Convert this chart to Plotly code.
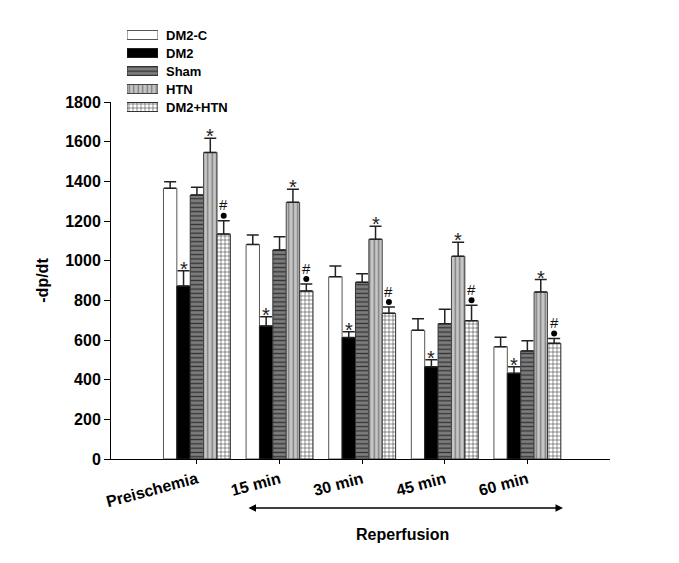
import plotly.graph_objects as go

categories = ["Preischemia", "15 min", "30 min", "45 min", "60 min"]
series_names = ["DM2-C", "DM2", "Sham", "HTN", "DM2+HTN"]

dm2c = [1365, 1082, 919, 649, 566]
dm2 = [872, 671, 612, 465, 432]
sham = [1331, 1054, 891, 682, 545]
htn = [1546, 1294, 1108, 1022, 842]
dm2htn = [1134, 847, 735, 697, 583]

dm2c_err = [33, 47, 54, 58, 48]
dm2_err = [77, 46, 30, 36, 33]
sham_err = [39, 67, 43, 73, 51]
htn_err = [71, 66, 65, 71, 63]
dm2htn_err = [67, 35, 31, 78, 24]

star_series = ["DM2", "HTN"]
hash_dot_series = ["DM2+HTN"]

values = [dm2c, dm2, sham, htn, dm2htn]
errors = [dm2c_err, dm2_err, sham_err, htn_err, dm2htn_err]

styles = [
    dict(color="white", pattern=None, line="#555555"),
    dict(color="black", pattern=None, line="#222222"),
    dict(color="#7c7c7c", pattern=dict(shape="-", bgcolor="#7c7c7c", fgcolor="#333333",
                                         size=4.3, solidity=0.3, fillmode="replace"), line="#333333"),
    dict(color="#c6c6c6", pattern=dict(shape="|", bgcolor="#c6c6c6", fgcolor="#7a7a7a",
                                         size=4.5, solidity=0.3, fillmode="replace"), line="#444444"),
    dict(color="white", pattern=dict(shape="+", bgcolor="white", fgcolor="#333333",
                                       size=4, solidity=0.25, fillmode="replace"), line="#333333"),
]

FONT = "Liberation Sans, Arial, sans-serif"
W, H = 679, 563
OFF = 8  # page body margin
PL, PR, PT, PB = 111, 610, 20, 459  # plot area in screenshot pixels
YTOP = 102  # screenshot pixel of y = 1800
YMAX = 1800


def px(sx):
    return (sx - PL) / (PR - PL)


def py(sy):
    return (PB - sy) / (PB - PT)


units_per_px = YMAX / (PB - YTOP)

bargap = 0.19
n = len(series_names)
bar_w = (1 - bargap) / n
xs = list(range(len(categories)))

fig = go.Figure()
for j, name in enumerate(series_names):
    st = styles[j]
    marker = dict(color=st["color"], line=dict(color=st["line"], width=1))
    if st["pattern"] is not None:
        marker["pattern"] = st["pattern"]
    fig.add_trace(go.Bar(
        name=name, x=xs, y=values[j], marker=marker, showlegend=False,
        error_y=dict(type="data", symmetric=False, array=errors[j],
                     arrayminus=[0] * len(xs), color="#222222", thickness=1.5, width=6),
    ))

# legend swatches drawn as horizontal bars on a small auxiliary axis
for j, name in enumerate(series_names):
    st = styles[j]
    marker = dict(color=st["color"], line=dict(color=st["line"], width=1))
    if st["pattern"] is not None:
        marker["pattern"] = st["pattern"]
    fig.add_trace(go.Bar(
        name=name, x=[1], y=[name], orientation="h", marker=marker,
        xaxis="x2", yaxis="y2", offsetgroup="legend", showlegend=False,
        hoverinfo="skip", width=0.5,
    ))

annotations = []
dot_x, dot_y = [], []
for j, name in enumerate(series_names):
    for i in xs:
        xpos = i + (j - (n - 1) / 2) * bar_w
        top = values[j][i] + errors[j][i]
        if name in star_series:
            annotations.append(dict(x=xpos, y=top, text="*", showarrow=False,
                                    yanchor="middle", yshift=2,
                                    font=dict(family=FONT, size=20, color="#222222")))
        if name in hash_dot_series:
            dot_x.append(xpos)
            dot_y.append(top + 5 * units_per_px)
            annotations.append(dict(x=xpos, y=top, text="#", showarrow=False,
                                    yanchor="middle", yshift=16,
                                    font=dict(family=FONT, size=15, color="#111111")))

fig.add_trace(go.Scatter(x=dot_x, y=dot_y, mode="markers", showlegend=False,
                         marker=dict(symbol="circle", size=6, color="black"),
                         hoverinfo="skip"))

annotations.append(dict(xref="paper", yref="paper", x=px(563), y=py(508),
                        ax=-(563 - 247), ay=0, axref="pixel", ayref="pixel",
                        text="", showarrow=True, arrowhead=2, startarrowhead=2,
                        arrowside="end+start", arrowsize=1, arrowwidth=1.5,
                        arrowcolor="black"))
annotations.append(dict(xref="paper", yref="paper", x=px(402), y=py(534),
                        xanchor="center", yanchor="middle",
                        text="<b>Reperfusion</b>", showarrow=False,
                        font=dict(family=FONT, size=16, color="black")))

fig.update_layout(
    width=W, height=H,
    margin=dict(l=PL - OFF, r=W - (PR - OFF), t=PT - OFF, b=H - (PB - OFF), autoexpand=False),
    paper_bgcolor="white", plot_bgcolor="white",
    barmode="group", bargap=bargap, bargroupgap=0,
    font=dict(family=FONT, size=16, color="black"),
    showlegend=False,
    annotations=annotations,
    xaxis=dict(range=[-1.04, 5.0], tickmode="array", tickvals=xs,
               ticktext=["<b>%s</b>" % c for c in categories], tickangle=-15,
               showline=True, linecolor="black", linewidth=1,
               ticks="outside", ticklen=4, tickcolor="black",
               showgrid=False, zeroline=False, anchor="y",
               tickfont=dict(family=FONT, size=16, color="black")),
    yaxis=dict(range=[0, YMAX], dtick=200, tickmode="linear", tick0=0,
               domain=[0, py(YTOP)], anchor="x",
               showline=True, linecolor="black", linewidth=1,
               ticks="outside", ticklen=6, tickcolor="black",
               showgrid=False, zeroline=False,
               tickfont=dict(family=FONT, size=16, color="black", weight="bold"),
               title=dict(text="<b>-dp/dt</b>", standoff=12,
                          font=dict(family=FONT, size=16, color="black"))),
    xaxis2=dict(domain=[px(127), px(158)], range=[0, 1], visible=False,
                anchor="y2", fixedrange=True),
    yaxis2=dict(domain=[py(116), py(26)], anchor="x2", side="right",
                type="category", categoryorder="array", categoryarray=series_names,
                autorange="reversed", showline=False, showgrid=False, zeroline=False,
                ticks="", ticklabelstandoff=7,
                tickfont=dict(family=FONT, size=13, color="black", weight="bold")),
)

fig.write_html("out.html")
